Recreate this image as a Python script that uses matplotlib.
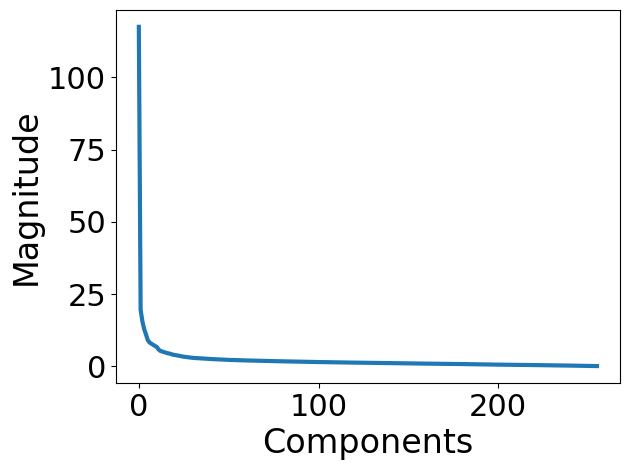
import matplotlib
matplotlib.use("Agg")
import matplotlib.pyplot as plt

components = [0, 1, 2, 3, 4, 5, 6, 7, 8, 9, 10, 11, 12, 13, 14, 15, 16, 17, 18, 19, 20,
              25, 30, 40, 50, 60, 80, 100, 120, 140, 160, 180, 200, 220, 240, 255]
magnitude = [117.5, 19.5, 15.5, 12.8, 11.0, 9.0, 8.2, 7.8, 7.4, 7.0, 6.7, 5.8, 5.3, 5.1,
             4.9, 4.7, 4.5, 4.4, 4.2, 4.0, 3.9, 3.3, 2.9, 2.5, 2.2, 2.0, 1.7, 1.45, 1.25,
             1.08, 0.9, 0.75, 0.55, 0.4, 0.22, 0.05]

fig, ax = plt.subplots(figsize=(6.3, 4.7), dpi=100)
ax.plot(components, magnitude, color="#1f77b4", linewidth=3)
ax.set_xlabel("Components", fontsize=24)
ax.set_ylabel("Magnitude", fontsize=24)
ax.tick_params(axis="both", labelsize=22)
ax.set_xticks([0, 100, 200])
ax.set_yticks([0, 25, 50, 75, 100])
fig.subplots_adjust(left=0.184, right=0.984, top=0.979, bottom=0.185)
fig.savefig("out.png")
